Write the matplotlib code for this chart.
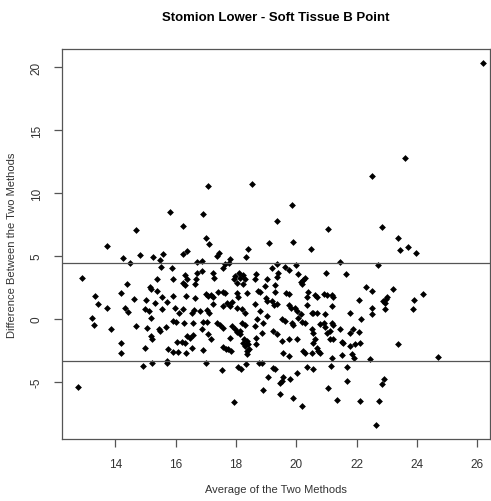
import matplotlib
matplotlib.use("Agg")
import matplotlib.pyplot as plt

plt.rcParams['font.family'] = ['Liberation Sans', 'DejaVu Sans']

# (mean of the two methods, difference between them)
points = [
    (14.68, 7.06), (13.73, 5.76), (14.25, 4.86), (14.83, 5.10), (15.26, 4.88),
    (15.57, 5.15), (14.49, 4.43), (15.48, 4.67), (15.51, 4.14), (12.89, 3.21),
    (15.39, 3.13), (14.40, 2.79), (15.15, 2.55), (15.19, 2.39), (15.80, 8.50),
    # 16 - 19, upper half
    (17.08, 10.52), (18.53, 10.68), (16.92, 8.29), (16.23, 7.35), (17.02, 6.40),
    (17.12, 5.94), (19.10, 6.05), (16.39, 5.42), (16.25, 5.12), (18.39, 5.58),
    (18.33, 4.91), (17.45, 5.26), (17.38, 4.99), (17.80, 4.73), (17.64, 4.33),
    (17.76, 4.41), (16.70, 4.51), (16.86, 4.57), (17.56, 4.03), (15.87, 4.06),
    (16.88, 3.79), (16.70, 3.66), (15.92, 3.19), (16.31, 3.45), (16.37, 3.19),
    (16.25, 2.87), (16.31, 2.65), (16.67, 3.19), (16.64, 2.73), (17.25, 3.61),
    (17.28, 3.27), (17.97, 3.40), (18.10, 3.61), (18.24, 3.45), (18.30, 3.13),
    (18.22, 2.79), (18.02, 2.81), (17.93, 3.13), (18.12, 3.20), (18.66, 3.53),
    (18.63, 3.19), (19.02, 3.19), (18.96, 2.60),
    # 19 - 22, upper half
    (19.87, 9.05), (19.35, 7.75), (21.06, 7.12), (19.90, 6.10), (20.48, 5.55),
    (21.45, 4.51), (19.35, 4.38), (19.18, 4.06), (19.62, 4.14), (19.77, 3.87),
    (19.99, 4.27), (19.40, 3.66), (19.35, 3.35), (20.07, 3.53), (20.29, 3.27),
    (20.23, 3.08), (20.15, 2.92), (20.18, 2.73), (20.98, 3.66), (21.65, 3.53),
    (19.29, 2.65), (22.30, 2.55),
    # right side, upper half
    (22.52, 11.36), (22.84, 7.33), (23.37, 6.40), (23.45, 5.44), (23.70, 5.71),
    (23.97, 5.20), (22.72, 4.27), (23.60, 12.76), (26.20, 20.35),
    # left side, lower half
    (13.33, 1.80), (14.18, 2.02), (15.39, 2.20), (15.54, 1.75), (14.62, 1.59),
    (15.02, 1.48), (15.32, 1.27), (13.42, 1.20), (13.73, 0.82), (14.32, 0.88),
    (14.43, 0.53), (14.98, 0.80), (15.12, 0.61), (15.54, 0.80), (15.70, 1.32),
    (13.22, 0.08), (15.18, 0.08), (13.29, -0.51), (13.86, -0.85), (14.69, -0.59),
    (15.04, -0.72), (15.48, -0.99), (15.43, -0.85), (15.68, -0.64), (15.17, -1.39),
    (15.21, -1.59), (14.18, -1.91), (14.19, -2.71), (14.99, -2.37), (15.76, -2.45),
    (14.93, -3.78), (15.23, -3.56), (15.70, -3.56), (15.72, -3.38), (12.75, -5.45),
    # 16 - 19, lower half
    (15.92, 1.80), (16.34, 1.80), (16.64, 1.67), (17.00, 1.96), (17.07, 1.80),
    (17.18, 1.91), (17.23, 1.70), (17.41, 2.12), (17.58, 2.12), (17.64, 2.02),
    (18.02, 2.02), (18.08, 1.75), (18.36, 2.02), (18.74, 2.20), (19.00, 1.67),
    (15.98, 0.88), (16.23, 0.74), (16.12, 0.42), (16.53, 0.48), (16.59, 0.69),
    (16.81, 0.61), (17.03, 0.69), (17.12, 0.48), (17.25, 1.14), (17.58, 1.00),
    (17.69, 1.22), (17.86, 1.32), (17.80, 1.00), (18.02, 0.88), (18.19, 0.74),
    (18.30, 0.42), (18.63, 1.14), (18.80, 0.61), (19.02, 1.40), (15.90, -0.19),
    (16.01, -0.27), (16.28, -0.32), (16.57, -0.32), (16.90, -0.27), (17.03, -0.27),
    (17.36, -0.32), (17.47, -0.53), (17.58, -0.72), (16.86, -0.85), (17.08, -1.25),
    (17.86, -0.59), (17.97, -0.80), (18.02, -1.07), (18.13, -0.99), (18.19, -0.32),
    (18.30, -0.53), (18.63, -0.59), (18.91, -0.32), (19.02, 0.21), (18.71, -0.06),
    (16.37, -1.39), (16.48, -1.51), (16.57, -1.33), (17.18, -1.65), (17.80, -1.51),
    (18.13, -1.25), (18.27, -1.59), (18.22, -1.91), (18.38, -1.78), (18.41, -2.05),
    (18.66, -1.51), (18.85, -1.12), (16.03, -1.86), (16.20, -1.86), (16.31, -1.91),
    (16.53, -2.31), (16.92, -2.50), (17.58, -2.23), (17.67, -2.45), (17.75, -2.39),
    (17.83, -2.58), (18.30, -2.18), (18.36, -2.58), (18.44, -2.45), (18.38, -2.84),
    (18.66, -2.05), (15.92, -2.66), (16.09, -2.66), (16.34, -2.71), (17.01, -3.56),
    (17.53, -4.10), (18.08, -3.82), (18.16, -4.04), (18.33, -3.64), (18.77, -3.56),
    (18.85, -3.56), (19.07, -4.62), (18.91, -5.69), (17.94, -6.65), (18.80, 2.15),
    # 19 - 22, lower half
    (19.29, 2.12), (19.66, 2.07), (19.74, 1.94), (20.40, 2.12), (20.34, 1.75),
    (20.62, 1.86), (20.68, 1.75), (20.90, 1.94), (21.03, 1.86), (21.17, 1.86),
    (21.23, 1.75), (22.09, 1.48), (19.18, 1.40), (19.25, 1.06), (19.36, 1.14),
    (19.74, 1.06), (19.82, 0.88), (19.96, 0.88), (20.01, 0.61), (20.15, 0.34),
    (20.34, 1.06), (20.51, 0.42), (20.56, 0.48), (20.69, 0.42), (20.95, 0.34),
    (21.17, 1.00), (21.78, 0.48), (22.13, 0.00), (19.52, -0.06), (19.62, -0.19),
    (19.85, -0.32), (19.90, -0.53), (20.07, 0.08), (20.18, -0.27), (20.29, -0.32),
    (20.79, -0.40), (20.90, -0.32), (20.95, -0.64), (21.17, -0.32), (21.23, -0.53),
    (21.12, -0.99), (20.51, -0.80), (20.56, -1.17), (20.62, -1.59), (19.24, -0.99),
    (19.37, -1.25), (19.52, -1.78), (19.74, -1.65), (20.01, -1.65), (21.03, -1.12),
    (21.12, -1.59), (21.23, -1.59), (21.45, -0.80), (21.50, -1.86), (21.56, -1.97),
    (21.78, -1.12), (21.89, -0.85), (22.09, -1.07), (21.78, -2.18), (21.95, -2.05),
    (22.11, -1.91), (20.56, -1.91), (20.68, -2.31), (20.73, -2.58), (20.79, -2.71),
    (20.51, -2.71), (20.23, -2.58), (20.29, -2.71), (19.57, -2.76), (19.77, -2.98),
    (21.17, -3.11), (21.50, -2.92), (21.84, -2.84), (21.91, -3.11), (19.24, -3.90),
    (19.29, -4.04), (20.34, -3.82), (20.56, -3.98), (21.15, -3.78), (21.69, -3.82),
    (20.01, -4.30), (19.57, -4.62), (19.52, -4.97), (19.46, -5.10), (19.79, -4.78),
    (21.69, -4.97), (21.06, -5.50), (19.46, -6.03), (19.88, -6.29), (21.36, -6.43),
    (22.11, -6.51), (20.18, -6.91),
    # right side, lower half
    (22.50, 2.20), (23.22, 2.33), (22.88, 1.40), (22.97, 1.59), (23.02, 1.75),
    (22.95, 1.27), (22.95, 0.80), (22.50, 0.88), (22.50, 0.34), (23.91, 1.46),
    (23.88, 0.74), (24.19, 1.94), (23.38, -2.05), (24.69, -3.06), (22.44, -3.24),
    (22.92, -4.76), (22.83, -5.18), (22.74, -6.51), (22.64, -8.42),
]
avg_vals = [p[0] for p in points]
diff_vals = [p[1] for p in points]

upper_loa = 4.39
lower_loa = -3.37

fig = plt.figure(figsize=(4.91, 5.02), dpi=100)
ax = fig.add_axes([62 / 491, (502 - 440) / 502, 428 / 491, 390 / 502])

ax.scatter(avg_vals, diff_vals, marker='D', s=12, color='black', linewidths=0)
ax.axhline(upper_loa, color='#555555', lw=0.9)
ax.axhline(lower_loa, color='#555555', lw=0.9)

ax.set_xlim(12.23, 26.42)
ax.set_ylim(-9.57, 21.45)
ax.set_xticks([14, 16, 18, 20, 22, 24, 26])
ax.set_yticks([-5, 0, 5, 10, 15, 20])
ax.set_yticklabels(['-5', '0', '5', '10', '15', '20'], rotation=90, va='center')

for s in ax.spines.values():
    s.set_color('#555555')
    s.set_linewidth(0.9)
ax.tick_params(direction='out', length=6, width=0.9, color='#555555',
               labelsize=8.5, labelcolor='#333333', pad=8)

ax.set_xlabel('Average of the Two Methods', fontsize=8, color='#333333', labelpad=10)
ax.set_ylabel('Difference Between the Two Methods', fontsize=8, color='#333333', labelpad=10)
fig.suptitle('Stomion Lower - Soft Tissue B Point', fontsize=9.5, fontweight='bold',
             x=(62 + 490) / 2 / 491, y=1 - 18 / 502, va='center')

fig.savefig('out.png', dpi=100)
